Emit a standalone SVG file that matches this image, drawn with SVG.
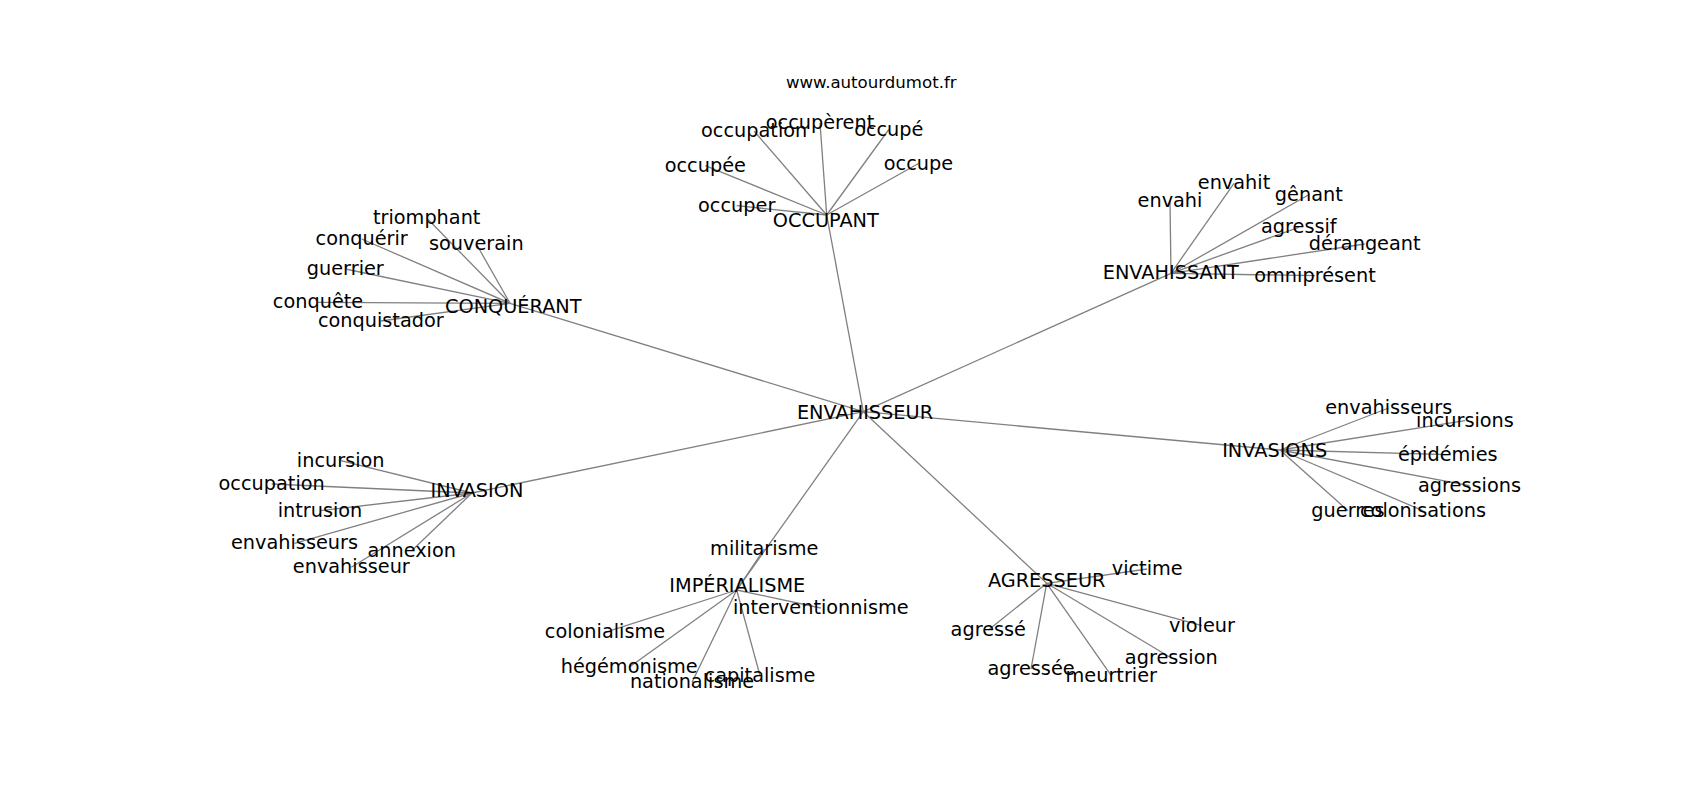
<svg xmlns="http://www.w3.org/2000/svg" width="1700" height="800" viewBox="0 0 1700 800">
<style>
.bg{fill:#ffffff}
.e line{stroke:#808080;stroke-width:1.3;fill:none}
text{font-family:"DejaVu Sans","Liberation Sans",sans-serif;fill:#000000;text-anchor:middle}
.n text{font-size:19.3px}
.url{font-size:16.6px}
</style>
<rect class="bg" x="0" y="0" width="1700" height="800"/>
<text class="url" x="871.3" y="87.7">www.autourdumot.fr</text>
<g id="connectors" class="e">
<line x1="863.3" y1="411.7" x2="826.7" y2="215"/>
<line x1="863.3" y1="411.7" x2="510" y2="303.3"/>
<line x1="863.3" y1="411.7" x2="1171" y2="273.3"/>
<line x1="863.3" y1="411.7" x2="1280" y2="450"/>
<line x1="863.3" y1="411.7" x2="472" y2="493"/>
<line x1="863.3" y1="411.7" x2="736.7" y2="590"/>
<line x1="863.3" y1="411.7" x2="1046.7" y2="583.3"/>
<line x1="826.7" y1="215" x2="754.2" y2="131.3"/>
<line x1="826.7" y1="215" x2="820" y2="123"/>
<line x1="826.7" y1="215" x2="888.8" y2="129.5"/>
<line x1="826.7" y1="215" x2="705.3" y2="165.7"/>
<line x1="826.7" y1="215" x2="918.5" y2="163.5"/>
<line x1="826.7" y1="215" x2="736.7" y2="205.7"/>
<line x1="510" y1="303.3" x2="426.7" y2="218"/>
<line x1="510" y1="303.3" x2="361.7" y2="239"/>
<line x1="510" y1="303.3" x2="476.3" y2="244"/>
<line x1="510" y1="303.3" x2="345.3" y2="269"/>
<line x1="510" y1="303.3" x2="318" y2="302.3"/>
<line x1="510" y1="303.3" x2="380.8" y2="321"/>
<line x1="1171" y1="273.3" x2="1170" y2="201.3"/>
<line x1="1171" y1="273.3" x2="1234" y2="183.3"/>
<line x1="1171" y1="273.3" x2="1308.8" y2="194.7"/>
<line x1="1171" y1="273.3" x2="1298.8" y2="227.3"/>
<line x1="1171" y1="273.3" x2="1364.7" y2="244"/>
<line x1="1171" y1="273.3" x2="1315" y2="275.7"/>
<line x1="1280" y1="450" x2="1388.7" y2="408"/>
<line x1="1280" y1="450" x2="1465" y2="420.7"/>
<line x1="1280" y1="450" x2="1447.8" y2="454.7"/>
<line x1="1280" y1="450" x2="1469.5" y2="485.7"/>
<line x1="1280" y1="450" x2="1348" y2="510.7"/>
<line x1="1280" y1="450" x2="1423" y2="510.7"/>
<line x1="472" y1="493" x2="340.7" y2="460.7"/>
<line x1="472" y1="493" x2="271.7" y2="484"/>
<line x1="472" y1="493" x2="320" y2="510.7"/>
<line x1="472" y1="493" x2="294.5" y2="543.3"/>
<line x1="472" y1="493" x2="411.7" y2="550.7"/>
<line x1="472" y1="493" x2="351.3" y2="567.3"/>
<line x1="736.7" y1="590" x2="764.2" y2="549"/>
<line x1="736.7" y1="590" x2="820.8" y2="608"/>
<line x1="736.7" y1="590" x2="605" y2="632.3"/>
<line x1="736.7" y1="590" x2="629.2" y2="667.3"/>
<line x1="736.7" y1="590" x2="760" y2="675.7"/>
<line x1="736.7" y1="590" x2="692" y2="682.3"/>
<line x1="1046.7" y1="583.3" x2="1147.2" y2="569"/>
<line x1="1046.7" y1="583.3" x2="988.3" y2="630"/>
<line x1="1046.7" y1="583.3" x2="1202" y2="625.7"/>
<line x1="1046.7" y1="583.3" x2="1031" y2="669"/>
<line x1="1046.7" y1="583.3" x2="1111.3" y2="675.7"/>
<line x1="1046.7" y1="583.3" x2="1171.3" y2="658"/>
</g>
<g class="n">
<g id="n-envahisseur-hub"><text x="865" y="419.3">ENVAHISSEUR</text></g>
<g id="n-occupant"><text x="825.8" y="227">OCCUPANT</text></g>
<g id="n-conquerant"><text x="513.3" y="313.3">CONQUÉRANT</text></g>
<g id="n-envahissant"><text x="1170.8" y="279.3">ENVAHISSANT</text></g>
<g id="n-invasions"><text x="1274.7" y="457.3">INVASIONS</text></g>
<g id="n-invasion"><text x="477" y="497.3">INVASION</text></g>
<g id="n-imperialisme"><text x="737.3" y="591.7">IMPÉRIALISME</text></g>
<g id="n-agresseur"><text x="1046.7" y="587.3">AGRESSEUR</text></g>

<g id="n-occupation-1"><text x="754.2" y="137.3">occupation</text></g>
<g id="n-occuperent"><text x="820" y="129">occupèrent</text></g>
<g id="n-occupe-acc"><text x="888.8" y="135.5">occupé</text></g>
<g id="n-occupee"><text x="705.3" y="171.7">occupée</text></g>
<g id="n-occupe"><text x="918.5" y="169.5">occupe</text></g>
<g id="n-occuper"><text x="736.7" y="211.7">occuper</text></g>

<g id="n-triomphant"><text x="426.7" y="224">triomphant</text></g>
<g id="n-conquerir"><text x="361.7" y="245">conquérir</text></g>
<g id="n-souverain"><text x="476.3" y="250">souverain</text></g>
<g id="n-guerrier"><text x="345.3" y="275">guerrier</text></g>
<g id="n-conquete"><text x="318" y="308.3">conquête</text></g>
<g id="n-conquistador"><text x="380.8" y="327">conquistador</text></g>

<g id="n-envahi"><text x="1170" y="207.3">envahi</text></g>
<g id="n-envahit"><text x="1234" y="189.3">envahit</text></g>
<g id="n-genant"><text x="1308.8" y="200.7">gênant</text></g>
<g id="n-agressif"><text x="1298.8" y="233.3">agressif</text></g>
<g id="n-derangeant"><text x="1364.7" y="250">dérangeant</text></g>
<g id="n-omnipresent"><text x="1315" y="281.7">omniprésent</text></g>

<g id="n-envahisseurs-1"><text x="1388.7" y="414">envahisseurs</text></g>
<g id="n-incursions"><text x="1465" y="426.7">incursions</text></g>
<g id="n-epidemies"><text x="1447.8" y="460.7">épidémies</text></g>
<g id="n-agressions"><text x="1469.5" y="491.7">agressions</text></g>
<g id="n-guerres"><text x="1348" y="516.7">guerres</text></g>
<g id="n-colonisations"><text x="1423" y="516.7">colonisations</text></g>

<g id="n-incursion"><text x="340.7" y="466.7">incursion</text></g>
<g id="n-occupation-2"><text x="271.7" y="490">occupation</text></g>
<g id="n-intrusion"><text x="320" y="516.7">intrusion</text></g>
<g id="n-envahisseurs-2"><text x="294.5" y="549.3">envahisseurs</text></g>
<g id="n-annexion"><text x="411.7" y="556.7">annexion</text></g>
<g id="n-envahisseur-leaf"><text x="351.3" y="573.3">envahisseur</text></g>

<g id="n-militarisme"><text x="764.2" y="555">militarisme</text></g>
<g id="n-interventionnisme"><text x="820.8" y="614">interventionnisme</text></g>
<g id="n-colonialisme"><text x="605" y="638.3">colonialisme</text></g>
<g id="n-hegemonisme"><text x="629.2" y="673.3">hégémonisme</text></g>
<g id="n-capitalisme"><text x="760" y="681.7">capitalisme</text></g>
<g id="n-nationalisme"><text x="692" y="688.3">nationalisme</text></g>

<g id="n-victime"><text x="1147.2" y="575">victime</text></g>
<g id="n-agresse"><text x="988.3" y="636">agressé</text></g>
<g id="n-violeur"><text x="1202" y="631.7">violeur</text></g>
<g id="n-agressee"><text x="1031" y="675">agressée</text></g>
<g id="n-meurtrier"><text x="1111.3" y="681.7">meurtrier</text></g>
<g id="n-agression"><text x="1171.3" y="664">agression</text></g>
</g>
</svg>
